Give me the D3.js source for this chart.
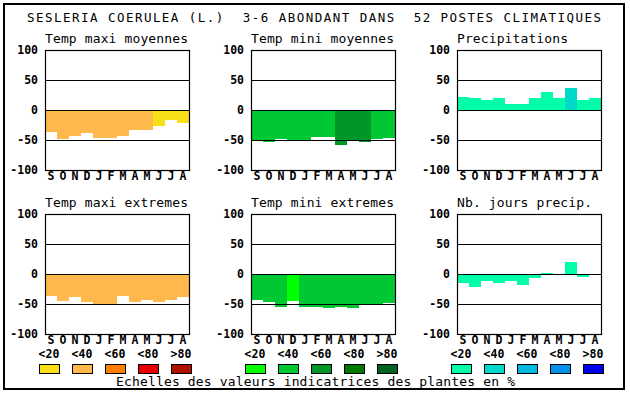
<!DOCTYPE html>
<html>
<head>
<meta charset="utf-8">
<script src="https://cdn.jsdelivr.net/npm/d3@7"></script>
<style>
  html, body { margin: 0; padding: 0; background: #fff; }
  svg { display: block; font-family: "DejaVu Sans Mono", "Liberation Mono", monospace; }
  svg text { white-space: pre; }
</style>
</head>
<body>
<div id="chart"></div>
<script>
(function () {
  "use strict";

  const TITLE = "SESLERIA COERULEA (L.)  3-6 ABONDANT DANS  52 POSTES CLIMATIQUES";
  const CAPTION = "Echelles des valeurs indicatrices des plantes en %";
  const MONTHS = ["S", "O", "N", "D", "J", "F", "M", "A", "M", "J", "J", "A"];
  const TICKS = [100, 50, 0, -50, -100];
  const GRID = [50, 0, -50];
  const SCALE_LABELS = ["<20", "<40", "<60", "<80", ">80"];

  const WARM = ["#f8e018", "#ffb84c", "#ff7e00", "#e80000", "#b01000"];
  const GREEN = ["#00ff00", "#00c832", "#009628", "#007800", "#006020"];
  const BLUE = ["#00ffa8", "#00d8c8", "#00b8e0", "#0090e8", "#0000f0"];

  const TITLES = [
    "Temp maxi moyennes", "Temp mini moyennes", "Precipitations",
    "Temp maxi extremes", "Temp mini extremes", "Nb. jours precip."
  ];

  // values per month (S..A) and the colour class (index in the palette)
  const tmaxMoy = [-36, -48, -43, -38, -46, -46, -44, -34, -34, -26, -16, -22];
  const tmaxMoyCls = [1, 1, 1, 1, 1, 1, 1, 1, 1, 0, 0, 0];
  const tminMoy = [-52, -54, -48, -50, -50, -45, -45, -58, -52, -54, -48, -46];
  const tminMoyCls = [1, 1, 1, 1, 1, 1, 1, 2, 2, 2, 1, 1];
  const precip = [22, 20, 17, 20, 10, 10, 20, 30, 20, 37, 17, 20];
  const precipCls = [0, 0, 0, 0, 0, 0, 0, 0, 0, 1, 0, 0];
  const tmaxExt = [-37, -45, -38, -47, -50, -50, -37, -47, -43, -47, -43, -38];
  const tmaxExtCls = [1, 1, 1, 1, 1, 1, 1, 1, 1, 1, 1, 1];
  const tminExt = [-43, -47, -55, -45, -55, -55, -57, -55, -57, -50, -50, -48];
  const tminExtCls = [1, 1, 1, 0, 1, 1, 1, 1, 1, 1, 1, 1];
  const joursPrecip = [-15, -22, -12, -15, -12, -18, -7, 2, 0, 20, -5, 0];
  const joursPrecipCls = [0, 0, 0, 0, 0, 0, 0, 0, 0, 0, 0, 0];

  const W = 630, H = 394;
  const COL_X = [45, 251, 457];
  const ROW_Y = [50, 214];
  const PW = 144, PH = 120;

  const panels = [
    { values: tmaxMoy, cls: tmaxMoyCls, pal: WARM },
    { values: tminMoy, cls: tminMoyCls, pal: GREEN },
    { values: precip, cls: precipCls, pal: BLUE },
    { values: tmaxExt, cls: tmaxExtCls, pal: WARM },
    { values: tminExt, cls: tminExtCls, pal: GREEN },
    { values: joursPrecip, cls: joursPrecipCls, pal: BLUE }
  ];

  const svg = d3.select("#chart").append("svg")
    .attr("width", W).attr("height", H)
    .attr("viewBox", `0 0 ${W} ${H}`);

  // outer frame
  svg.append("rect")
    .attr("x", 4).attr("y", 4).attr("width", 620).attr("height", 385)
    .attr("fill", "none").attr("stroke", "#000").attr("stroke-width", 2);

  svg.append("text")
    .attr("x", 27).attr("y", 22)
    .attr("font-size", 12.5)
    .attr("textLength", TITLE.length * 9 - 2)
    .attr("lengthAdjust", "spacing")
    .attr("fill", "#000")
    .text(TITLE);

  const x = d3.scaleBand().domain(d3.range(12)).range([0, PW]).padding(0);

  panels.forEach((p, i) => {
    const col = i % 3, row = Math.floor(i / 3);
    const g = svg.append("g")
      .attr("transform", `translate(${COL_X[col]},${ROW_Y[row]})`);
    const y = d3.scaleLinear().domain([-100, 100]).range([PH, 0]);

    g.append("text")
      .attr("x", 0).attr("y", -7.5)
      .attr("font-size", 13)
      .attr("textLength", TITLES[i].length * 8 - 1)
      .attr("lengthAdjust", "spacing")
      .text(TITLES[i]);

    // bars
    g.append("g")
      .attr("shape-rendering", "crispEdges")
      .selectAll("rect")
      .data(p.values)
      .enter()
      .append("rect")
      .attr("x", (d, k) => x(k))
      .attr("width", x.bandwidth())
      .attr("y", d => y(Math.max(0, d)))
      .attr("height", d => Math.abs(y(d) - y(0)))
      .attr("fill", (d, k) => p.pal[p.cls[k]]);

    // grid lines over the bars
    g.append("g")
      .selectAll("line")
      .data(GRID)
      .enter()
      .append("line")
      .attr("x1", 0).attr("x2", PW)
      .attr("y1", d => Math.round(y(d)) + 0.5)
      .attr("y2", d => Math.round(y(d)) + 0.5)
      .attr("stroke", "#000").attr("stroke-width", 1.2);

    g.append("rect")
      .attr("x", 0.5).attr("y", 0.5).attr("width", PW).attr("height", PH)
      .attr("fill", "none").attr("stroke", "#000").attr("stroke-width", 1.2);

    // y tick labels
    g.append("g")
      .selectAll("text")
      .data(TICKS)
      .enter()
      .append("text")
      .attr("x", -7).attr("y", d => y(d))
      .attr("dy", "0.36em")
      .attr("text-anchor", "end")
      .attr("font-size", 11.5).attr("font-weight", "bold")
      .text(d => d);

    // month labels
    g.append("g")
      .selectAll("text")
      .data(MONTHS)
      .enter()
      .append("text")
      .attr("x", (d, k) => x(k) + x.bandwidth() / 2)
      .attr("y", PH + 10)
      .attr("text-anchor", "middle")
      .attr("font-size", 11.5).attr("font-weight", "bold")
      .text(d => d);

    // colour scale legend under the lower row
    if (row === 1) {
      const lg = g.append("g").attr("transform", `translate(0,${PH})`);
      lg.selectAll("text")
        .data(SCALE_LABELS)
        .enter()
        .append("text")
        .attr("x", (d, k) => 4 + k * 33)
        .attr("y", 23.5)
        .attr("text-anchor", "middle")
        .attr("font-size", 11.5).attr("font-weight", "bold")
        .text(d => d);
      lg.selectAll("rect")
        .data(p.pal)
        .enter()
        .append("rect")
        .attr("x", (d, k) => 4 + k * 33 - 10 + 0.5)
        .attr("y", 30.5)
        .attr("width", 20).attr("height", 9)
        .attr("fill", d => d)
        .attr("stroke", "#000").attr("stroke-width", 1);
    }
  });

  svg.append("text")
    .attr("x", 116).attr("y", 386)
    .attr("font-size", 13)
    .attr("textLength", CAPTION.length * 8 - 1)
    .attr("lengthAdjust", "spacing")
    .text(CAPTION);
})();
</script>
</body>
</html>
